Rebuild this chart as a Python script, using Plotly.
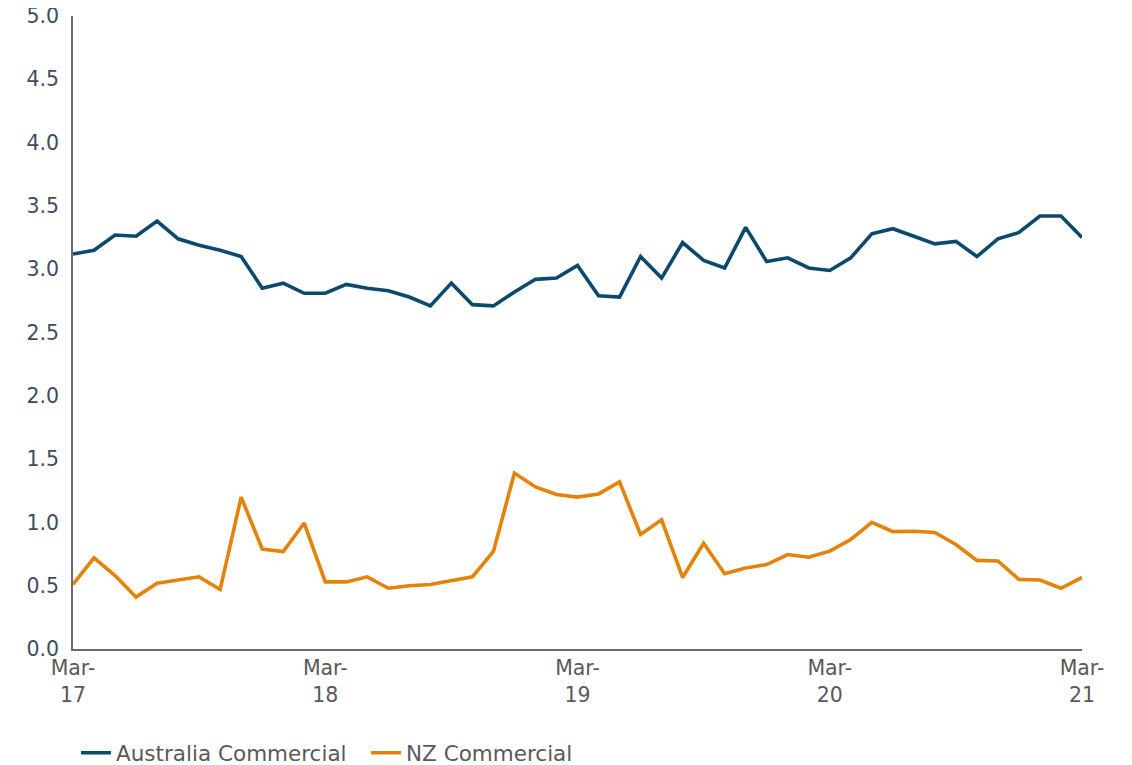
import pandas as pd
import plotly.graph_objects as go

# Monthly observations, Mar-17 .. Mar-21 (49 months)
months = pd.date_range("2017-03-01", periods=49, freq="MS").strftime("%b-%y").tolist()

australia_commercial = [
    3.12, 3.15, 3.27, 3.26, 3.38, 3.24, 3.19, 3.15, 3.10, 2.85,
    2.89, 2.81, 2.81, 2.88, 2.85, 2.83, 2.78, 2.71, 2.89, 2.72,
    2.71, 2.82, 2.92, 2.93, 3.03, 2.79, 2.78, 3.10, 2.93, 3.21,
    3.07, 3.01, 3.33, 3.06, 3.09, 3.01, 2.99, 3.09, 3.28, 3.32,
    3.26, 3.20, 3.22, 3.10, 3.24, 3.29, 3.42, 3.42, 3.25,
]

nz_commercial = [
    0.51, 0.72, 0.58, 0.41, 0.52, 0.545, 0.57, 0.47, 1.20, 0.79,
    0.77, 0.995, 0.53, 0.53, 0.57, 0.48, 0.50, 0.51, 0.54, 0.57,
    0.77, 1.39, 1.28, 1.22, 1.20, 1.225, 1.32, 0.905, 1.02, 0.565,
    0.835, 0.595, 0.64, 0.667, 0.746, 0.725, 0.773, 0.865, 1.00, 0.927,
    0.93, 0.92, 0.825, 0.70, 0.695, 0.55, 0.545, 0.48, 0.565,
]

tick_months = ["Mar-17", "Mar-18", "Mar-19", "Mar-20", "Mar-21"]
tick_text = ["Mar-<br>17", "Mar-<br>18", "Mar-<br>19", "Mar-<br>20", "Mar-<br>21"]
y_ticks = [0.0, 0.5, 1.0, 1.5, 2.0, 2.5, 3.0, 3.5, 4.0, 4.5, 5.0]

FONT = "Verdana, DejaVu Sans, sans-serif"
NAVY = "#0b4a6c"
ORANGE = "#e5820a"

fig = go.Figure()
fig.add_trace(go.Scatter(
    x=months, y=australia_commercial, name="Australia Commercial",
    mode="lines", line=dict(color=NAVY, width=3.6),
))
fig.add_trace(go.Scatter(
    x=months, y=nz_commercial, name="NZ Commercial",
    mode="lines", line=dict(color=ORANGE, width=3.6),
))

# the page body adds an 8px offset, so the figure is sized to fit the window
fig.update_layout(
    width=1124, height=757,
    margin=dict(l=65, r=49.5, t=8, b=116, autoexpand=False),
    paper_bgcolor="white", plot_bgcolor="white",
    font=dict(family=FONT, size=20, color="#595959"),
    showlegend=True,
    legend=dict(
        orientation="h", x=0.003, xanchor="left", y=-0.164, yanchor="middle",
        font=dict(family=FONT, size=21.5, color="#595959"),
        entrywidth=245, entrywidthmode="pixels",
        bgcolor="rgba(0,0,0,0)",
    ),
)

fig.update_xaxes(
    type="category", categoryorder="array", categoryarray=months,
    range=[0, len(months) - 1], automargin=False,
    tickmode="array", tickvals=tick_months, ticktext=tick_text,
    showgrid=False, zeroline=False,
    showline=True, linecolor="#6b6b6b", linewidth=1.5,
    ticks="", ticklabeloverflow="allow",
    tickfont=dict(family=FONT, size=20.5, color="#595959"),
)
fig.update_yaxes(
    range=[0, 5], automargin=False,
    tickmode="array", tickvals=y_ticks,
    ticktext=[f"{v:.1f}" for v in y_ticks],
    showgrid=False, zeroline=False,
    showline=True, linecolor="#6b6b6b", linewidth=1.5,
    ticks="", ticklabelstandoff=8, ticklabeloverflow="allow",
    tickfont=dict(family=FONT, size=20.5, color="#3d4d5f"),
)

fig.write_html("out.html")
